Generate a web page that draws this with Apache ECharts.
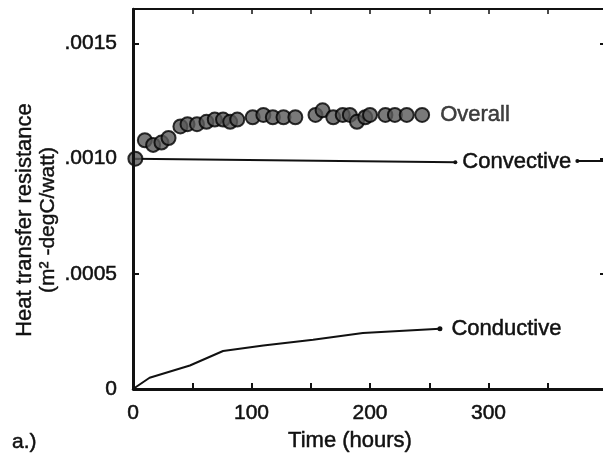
<!DOCTYPE html>
<html><head><meta charset="utf-8">
<script src="https://cdn.jsdelivr.net/npm/echarts@6/dist/echarts.min.js"></script>
<style>html,body{margin:0;padding:0;background:#fff}#c{width:603px;height:460px}</style>
</head><body><div id="c"></div>
<script>
// ---- data ----
const overallHours  = [2,10,17,24,30,40,46,54,62,69,76,82,88,101,110,118,127,137,154,160,169,177,183,189,196,200,213,221,231,244];
const overallValues = [0.00100,0.00108,0.00106,0.00107,0.00109,0.00114,0.00115,0.00115,0.00116,0.00117,0.00117,0.00116,0.00117,0.00118,0.00119,0.00118,0.00118,0.00118,0.00119,0.00121,0.00118,0.00119,0.00119,0.00116,0.00118,0.00119,0.00119,0.00119,0.00119,0.00119];
const convectiveHours  = [0, 272];
const convectiveValues = [0.00100, 0.000985];
const convectiveTailHours  = [375, 400];
const convectiveTailValues = [0.00099, 0.00099];
const conductiveHours  = [0,14,48,76,110,152,194,259];
const conductiveValues = [0,0.000049,0.000102,0.000165,0.000189,0.000214,0.000243,0.000262];
const xTickValues = [0,100,200,300];
const xTickLabels = ['0','100','200','300'];
const yTickValues = [0,0.0005,0.0010,0.0015];
const yTickLabels = ['0','.0005','.0010','.0015'];
const seriesNames = ['Overall','Convective','Conductive'];
const xMin = 0, xMax = 400, yMin = 0, yMax = 0.00165;

const FONT = 'Liberation Sans';
const INK = '#111111';
const TXT = {fontFamily: FONT, color: INK, textBorderColor: INK, textBorderWidth: 0.5};
const pairs = (xs, ys) => xs.map((x, i) => [x, ys[i]]);
const lastLabel = (arr, text, dist) => arr.map((p, i) => i === arr.length - 1
  ? {value: p, label: Object.assign({show: true, position: 'right', distance: dist, formatter: text, fontSize: 22}, TXT)}
  : {value: p});
const fmt = (vals, labels) => v => {
  const i = vals.findIndex(t => Math.abs(t - v) < 1e-9 * Math.max(1, Math.abs(t)));
  return i >= 0 ? labels[i] : String(v);
};

const chart = echarts.init(document.getElementById('c'));
chart.setOption({
  animation: false,
  backgroundColor: '#fff',
  grid: {left: 133, right: -4, top: 9, bottom: 71, outerBoundsMode: 'none'},
  xAxis: [
    {type: 'value', min: xMin, max: xMax, interval: 100, position: 'bottom', splitLine: {show: false},
      axisLine: {show: true, lineStyle: {color: INK, width: 2.5}},
      axisTick: {show: true, inside: true, length: 6, lineStyle: {color: INK, width: 2}},
      minorTick: {show: true, splitNumber: 2, length: 6, lineStyle: {color: INK, width: 2}},
      axisLabel: Object.assign({formatter: fmt(xTickValues, xTickLabels), fontSize: 21, margin: 14, showMaxLabel: false}, TXT)},
    {type: 'value', min: xMin, max: xMax, interval: 50, position: 'top', splitLine: {show: false},
      axisLine: {show: true, onZero: false, lineStyle: {color: INK, width: 2}},
      axisTick: {show: true, inside: true, length: 5, lineStyle: {color: INK, width: 1.5}},
      axisLabel: {show: false}}
  ],
  yAxis: [
    {type: 'value', min: yMin, max: yMax, interval: 0.0005, position: 'left', splitLine: {show: false},
      axisLine: {show: true, lineStyle: {color: INK, width: 2.5}},
      axisTick: {show: true, inside: true, length: 6, lineStyle: {color: INK, width: 2}},
      axisLabel: Object.assign({formatter: fmt(yTickValues, yTickLabels), fontSize: 21, margin: 16, showMaxLabel: false}, TXT)},
    {type: 'value', min: yMin, max: yMax, interval: 0.0005, position: 'right', splitLine: {show: false},
      axisLine: {show: true, onZero: false, lineStyle: {color: INK, width: 2}},
      axisTick: {show: true, inside: true, length: 7, lineStyle: {color: INK, width: 2}},
      axisLabel: {show: false}}
  ],
  series: [
    {name: seriesNames[1], type: 'line', z: 2,
     data: lastLabel(pairs(convectiveHours, convectiveValues), seriesNames[1], 5),
     symbol: 'circle', symbolSize: (v, p) => p.dataIndex === convectiveHours.length - 1 ? 4 : 0,
     showSymbol: true, itemStyle: {color: INK},
     lineStyle: {color: INK, width: 2}},
    {name: seriesNames[1] + ' (cont.)', type: 'line', z: 2,
     data: pairs(convectiveTailHours, convectiveTailValues),
     symbol: 'circle', symbolSize: (v, p) => p.dataIndex === 0 ? 4 : 0,
     showSymbol: true, itemStyle: {color: INK},
     lineStyle: {color: INK, width: 2}},
    {name: seriesNames[2], type: 'line', z: 2,
     data: lastLabel(pairs(conductiveHours, conductiveValues), seriesNames[2], 9),
     symbol: 'circle', symbolSize: (v, p) => p.dataIndex === conductiveHours.length - 1 ? 5 : 0,
     showSymbol: true, itemStyle: {color: INK},
     lineStyle: {color: INK, width: 2},
     // plot frame drawn through the axes' own scales
     markLine: {silent: true, symbol: ['none', 'none'], label: {show: false},
       lineStyle: {color: INK, width: 3, type: 'solid'}, emphasis: {disabled: true},
       data: [{xAxis: xMin}, {yAxis: yMin}, {yAxis: yMax}]}},
    {name: seriesNames[0], type: 'scatter', z: 3,
     data: lastLabel(pairs(overallHours, overallValues), seriesNames[0], 10),
     symbol: 'circle', symbolSize: 14,
     itemStyle: {color: '#595959', borderColor: '#000', borderWidth: 2}}
  ],
  graphic: [
    {type: 'text', x: 350, y: 441, style: {text: 'Time (hours)', fontSize: 22, fontFamily: FONT, fill: INK, stroke: INK, lineWidth: 0.5,
      textAlign: 'center', textVerticalAlign: 'middle', align: 'center', verticalAlign: 'middle'}},
    {type: 'text', x: 12, y: 442, style: {text: 'a.)', fontSize: 21, fontFamily: FONT, fill: INK, stroke: INK, lineWidth: 0.5,
      textAlign: 'left', textVerticalAlign: 'middle', align: 'left', verticalAlign: 'middle'}},
    {type: 'text', x: 25, y: 220, rotation: Math.PI / 2, style: {text: 'Heat transfer resistance', fontSize: 22, fontFamily: FONT, fill: INK, stroke: INK, lineWidth: 0.4,
      textAlign: 'center', textVerticalAlign: 'middle', align: 'center', verticalAlign: 'middle'}},
    {type: 'text', x: 48, y: 220, rotation: Math.PI / 2, style: {text: '(m² -degC/watt)', fontSize: 21, fontFamily: FONT, fill: INK, stroke: INK, lineWidth: 0.4,
      textAlign: 'center', textVerticalAlign: 'middle', align: 'center', verticalAlign: 'middle'}}
  ]
});
</script></body></html>
